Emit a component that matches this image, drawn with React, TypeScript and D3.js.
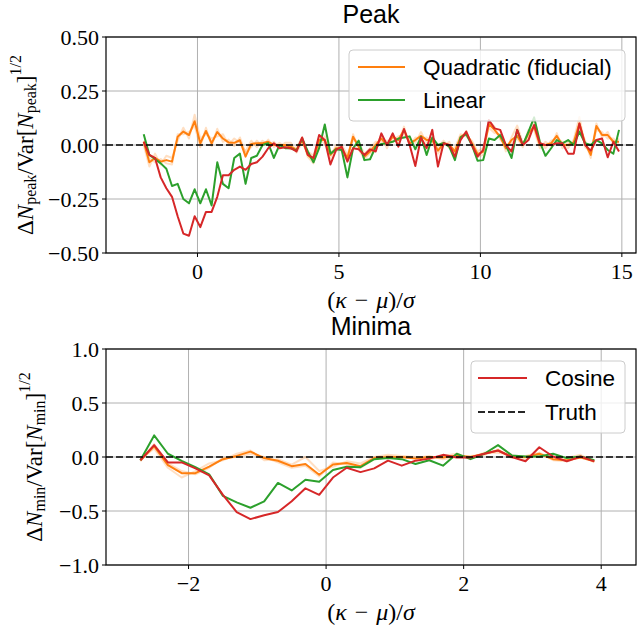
import React from "react";
import * as d3 from "d3";

// ---------- data ----------
const peakX0 = -1.9;
const peakStep = 0.2;
const peakQuadratic = [
  0.015,-0.08,-0.06,-0.077,-0.07,-0.077,0.038,0.062,0.046,0.11,
  0.008,0.065,0.008,0.06,0.03,0.012,0.01,0.022,-0.054,0.005,
  0.008,0.008,0.015,0,0,0,-0.008,-0.023,0.023,-0.046,
  -0.07,0.023,0.023,-0.046,-0.015,-0.015,-0.06,0.038,-0.008,-0.054,
  -0.03,0,0.03,0,0.038,0.023,0.07,0.008,0.023,0.042,
  0.023,0.023,-0.026,0.008,0,-0.03,0.038,0.054,0.008,-0.042,
  -0.03,0.097,0.07,0.038,-0.015,0.023,0.042,0,0.054,0.085,
  0,0,0.008,0.042,0,0,0.012,0.1,0.008,-0.046,
  0.088,0.046,0.046,0.015,0.015,
];
const peakQuadraticRealA = [
  0.0,-0.1,-0.04,-0.09,-0.05,-0.06,0.02,0.08,0.03,0.14,
  0.03,0.05,0.03,0.04,0.05,0.0,0.03,0.01,-0.03,0.02,
  -0.01,0.02,0.0,0.015,-0.01,0.01,0.01,-0.035,0.01,-0.03,
  -0.05,0.035,0.005,-0.03,-0.03,0.0,-0.045,0.025,0.01,-0.04,
  -0.015,0.015,0.015,0.02,0.02,0.04,0.05,0.02,0.01,0.06,
  0.01,0.035,-0.01,0.02,-0.015,-0.015,0.05,0.04,0.02,-0.03,
  -0.015,0.08,0.055,0.05,-0.03,0.035,0.09,0.01,0.04,0.12,
  0.015,-0.015,0.02,0.03,0.015,-0.015,0.025,0.13,-0.01,-0.03,
  0.07,0.06,0.03,0.03,0.0,
];
const peakQuadraticRealB = [
  0.02,-0.06,-0.08,-0.065,-0.085,-0.09,0.05,0.05,0.06,0.09,
  -0.01,0.08,-0.005,0.075,0.015,0.025,-0.005,0.035,-0.04,-0.01,
  0.02,-0.005,0.025,-0.01,0.01,-0.01,-0.02,-0.01,0.035,-0.055,
  -0.085,0.01,0.04,-0.06,0.0,-0.03,-0.07,0.05,-0.02,-0.065,
  -0.04,-0.01,0.045,-0.015,0.05,0.01,0.085,-0.005,0.035,0.03,
  0.035,0.01,-0.04,0.0,0.015,-0.045,0.025,0.065,-0.005,-0.055,
  -0.045,0.11,0.085,0.025,0.0,0.01,0.03,-0.01,0.07,0.07,
  -0.015,0.015,-0.005,0.055,-0.015,0.015,0.0,0.085,0.02,-0.06,
  0.1,0.035,0.06,0.005,0.03,
];
const peakLinear = [
  0.05,-0.046,-0.065,-0.085,-0.11,-0.19,-0.18,-0.25,-0.27,-0.205,
  -0.27,-0.205,-0.28,-0.08,-0.18,-0.2,-0.06,-0.04,-0.18,-0.06,
  -0.05,0,0.008,-0.06,0,-0.015,-0.015,-0.026,0.03,-0.03,
  -0.08,-0.015,0.095,-0.04,-0.02,-0.023,-0.15,-0.015,0.02,-0.07,
  -0.066,-0.008,0.005,0.008,0.015,0.03,0.035,0.04,-0.02,0.038,
  -0.046,0.035,0,0.01,-0.008,-0.07,0.035,0.05,0,-0.073,
  -0.07,0.03,0.023,0.046,0,-0.06,0.07,0,0.062,0.128,
  0.015,-0.05,-0.015,0.023,0.008,0.023,0,0.062,0.008,0,
  0.023,0.008,-0.023,-0.04,0.07,
];
const peakCosine = [
  0.015,-0.046,-0.06,-0.15,-0.2,-0.24,-0.33,-0.41,-0.42,-0.33,
  -0.38,-0.31,-0.31,-0.24,-0.14,-0.14,-0.115,-0.1,-0.115,-0.088,
  -0.08,-0.054,-0.015,0.008,-0.015,-0.01,-0.015,-0.03,0.035,-0.046,
  -0.06,0.046,0.023,-0.09,-0.023,-0.008,-0.077,-0.015,-0.02,-0.046,
  -0.02,-0.03,0.054,0,0.054,-0.008,0.074,0,-0.097,0.035,
  -0.015,0.07,-0.1,0.008,0,-0.054,0.023,0.062,0,-0.054,
  -0.023,0.116,0.077,0.07,0,-0.03,0.07,0,0.023,0.093,
  0.008,0,0,0.008,0.008,-0.04,-0.04,0.1,0,-0.026,
  0.023,0.03,-0.057,0.015,-0.03,
];

const minX0 = -2.7;
const minStep = 0.2;
const minQuadratic = [
  -0.03,0.1,-0.075,-0.15,-0.15,-0.09,-0.02,0.01,0.05,-0.01,
  -0.035,-0.085,-0.065,-0.165,-0.07,-0.055,-0.085,-0.01,0,0,
  -0.015,0,-0.005,0.015,0,0.03,0.06,0,0,0.03,
  -0.02,-0.03,-0.005,-0.04,
];
const minQuadraticRealA = [
  -0.02,0.08,-0.1,-0.19,-0.13,-0.06,-0.03,0.03,0.06,-0.03,
  -0.02,-0.07,0.0,-0.13,-0.09,-0.04,-0.06,0.0,0.02,0.01,
  0.0,-0.02,0.01,0.03,-0.01,0.04,0.04,0.02,-0.02,0.02,
  0.0,-0.01,0.02,-0.05,
];
const minQuadraticRealB = [
  -0.04,0.12,-0.06,-0.13,-0.16,-0.1,-0.01,0.0,0.03,0.0,
  -0.05,-0.1,-0.08,-0.18,-0.05,-0.07,-0.1,-0.02,0.01,-0.01,
  -0.01,0.01,-0.02,0.0,0.01,0.02,0.07,-0.01,0.01,0.04,
  -0.03,-0.04,0.0,-0.03,
];
const minLinear = [
  -0.03,0.2,0.03,-0.035,-0.095,-0.16,-0.36,-0.42,-0.47,-0.41,
  -0.24,-0.31,-0.21,-0.23,-0.12,-0.09,-0.095,-0.02,-0.01,-0.02,
  -0.065,-0.03,-0.08,0.03,-0.02,0.03,0.11,0.015,0.005,0.005,
  0.03,-0.01,0.005,-0.03,
];
const minCosine = [
  -0.03,0.11,-0.05,-0.05,-0.105,-0.17,-0.35,-0.51,-0.575,-0.54,
  -0.51,-0.41,-0.29,-0.35,-0.19,-0.1,-0.14,-0.105,-0.034,-0.08,
  -0.034,-0.015,0.02,-0.005,-0.005,0.03,0.06,0,-0.04,0.09,
  0.005,-0.04,0.005,-0.04,
];

const peakXTicks = [0, 5, 10, 15];
const peakYTicks = [-0.5, -0.25, 0, 0.25, 0.5];
const minXTicks = [-2, 0, 2, 4];
const minYTicks = [-1, -0.5, 0, 0.5, 1];

const C_ORANGE = "#ff7f0e";
const C_GREEN = "#2ca02c";
const C_RED = "#d62728";
const SERIF = "'Liberation Serif', 'DejaVu Serif', serif";
const SANS = "'Liberation Sans', Arial, sans-serif";

const minus = (s: string) => s.replace("-", "\u2212");

type PanelProps = {
  x0: number; step: number;
  quad: number[]; quadA: number[]; quadB: number[];
  lin: number[]; cos: number[];
  xDomain: [number, number]; yDomain: [number, number];
  top: number; bottom: number;
  xTicks: number[]; yTicks: number[]; yFmt: string;
  title: string; sub: string; ylabelX: number;
  legend: "top" | "bottom";
};

const LEFT = 106, RIGHT = 636;

function Panel(p: PanelProps) {
  const x = d3.scaleLinear().domain(p.xDomain).range([LEFT, RIGHT]);
  const y = d3.scaleLinear().domain(p.yDomain).range([p.bottom, p.top]);
  const line = d3.line<number>().x((_, i) => x(p.x0 + p.step * i)).y((v) => y(v));
  const fmt = d3.format(p.yFmt);
  const midY = (p.top + p.bottom) / 2;
  const clipId = "clip-" + p.title;
  return (
    <g>
      <defs>
        <clipPath id={clipId}>
          <rect x={LEFT} y={p.top} width={RIGHT - LEFT} height={p.bottom - p.top} />
        </clipPath>
      </defs>
      {p.xTicks.map((t) => (
        <line key={"gx" + t} x1={x(t)} x2={x(t)} y1={p.top} y2={p.bottom} stroke="#b0b0b0" strokeWidth={1} />
      ))}
      {p.yTicks.map((t) => (
        <line key={"gy" + t} x1={LEFT} x2={RIGHT} y1={y(t)} y2={y(t)} stroke="#b0b0b0" strokeWidth={1} />
      ))}
      <g clipPath={`url(#${clipId})`} fill="none" strokeLinejoin="round">
        <path d={line(p.quadA) || ""} stroke={C_ORANGE} strokeOpacity={0.25} strokeWidth={2} />
        <path d={line(p.quadB) || ""} stroke={C_ORANGE} strokeOpacity={0.25} strokeWidth={2} />
        <path d={line(p.quad) || ""} stroke={C_ORANGE} strokeWidth={2} />
        <path d={line(p.lin) || ""} stroke={C_GREEN} strokeWidth={2} />
        <path d={line(p.cos) || ""} stroke={C_RED} strokeWidth={2} />
        <line x1={LEFT} x2={RIGHT} y1={y(0)} y2={y(0)} stroke="#000" strokeOpacity={0.75} strokeWidth={2} strokeDasharray="7,3" />
      </g>
      <rect x={LEFT} y={p.top} width={RIGHT - LEFT} height={p.bottom - p.top} fill="none" stroke="#000" strokeWidth={1.2} />
      {p.xTicks.map((t) => (
        <g key={"tx" + t}>
          <line x1={x(t)} x2={x(t)} y1={p.bottom} y2={p.bottom + 4} stroke="#000" strokeWidth={1} />
          <text x={x(t)} y={p.bottom + 18} textAnchor="middle" dominantBaseline="central" fontFamily={SERIF} fontSize={22}>
            {minus(String(t))}
          </text>
        </g>
      ))}
      {p.yTicks.map((t) => (
        <g key={"ty" + t}>
          <line x1={LEFT - 4} x2={LEFT} y1={y(t)} y2={y(t)} stroke="#000" strokeWidth={1} />
          <text x={LEFT - 7} y={y(t)} textAnchor="end" dominantBaseline="central" fontFamily={SERIF} fontSize={22}>
            {minus(fmt(t))}
          </text>
        </g>
      ))}
      <text x={(LEFT + RIGHT) / 2} y={p.top - 14} textAnchor="middle" fontFamily={SANS} fontSize={25}>
        {p.title}
      </text>
      <text x={(LEFT + RIGHT) / 2} y={p.bottom + 47} textAnchor="middle" dominantBaseline="central" fontFamily={SERIF} fontSize={24}>
        (<tspan fontStyle="italic">κ</tspan>{"\u2004\u2212\u2004"}<tspan fontStyle="italic">μ</tspan>)/<tspan fontStyle="italic">σ</tspan>
      </text>
      <text transform={`translate(${p.ylabelX},${midY}) rotate(-90)`} textAnchor="middle" dominantBaseline="central" fontFamily={SERIF} fontSize={23}>
        Δ<tspan fontStyle="italic">N</tspan><tspan fontSize={16} dy={5}>{p.sub}</tspan><tspan dy={-5}>/Var[</tspan><tspan fontStyle="italic">N</tspan><tspan fontSize={16} dy={5}>{p.sub}</tspan><tspan dy={-5}>]</tspan><tspan fontSize={16} dy={-10}>1/2</tspan>
      </text>
      {p.legend === "top" ? (
        <g>
          <rect x={349} y={50} width={276} height={71} rx={4} fill="#fff" fillOpacity={0.8} stroke="#cccccc" strokeWidth={1} />
          <line x1={358} x2={405} y1={67} y2={67} stroke={C_ORANGE} strokeWidth={2} />
          <text x={423} y={67} dominantBaseline="central" fontFamily={SANS} fontSize={22.5}>Quadratic (fiducial)</text>
          <line x1={358} x2={405} y1={100} y2={100} stroke={C_GREEN} strokeWidth={2} />
          <text x={423} y={100} dominantBaseline="central" fontFamily={SANS} fontSize={22.5}>Linear</text>
        </g>
      ) : (
        <g>
          <rect x={471} y={361} width={154} height={72} rx={4} fill="#fff" fillOpacity={0.8} stroke="#cccccc" strokeWidth={1} />
          <line x1={478} x2={527} y1={378} y2={378} stroke={C_RED} strokeWidth={2} />
          <text x={545} y={378} dominantBaseline="central" fontFamily={SANS} fontSize={22.5}>Cosine</text>
          <line x1={478} x2={527} y1={412} y2={412} stroke="#000" strokeOpacity={0.85} strokeWidth={2} strokeDasharray="7,3" />
          <text x={545} y={412} dominantBaseline="central" fontFamily={SANS} fontSize={22.5}>Truth</text>
        </g>
      )}
    </g>
  );
}

export default function App() {
  return (
    <svg width={638} height={629} style={{ position: "absolute", left: 0, top: 0, background: "#fff" }}>
      <rect width={638} height={629} fill="#fff" />
      <Panel
        x0={peakX0} step={peakStep}
        quad={peakQuadratic} quadA={peakQuadraticRealA} quadB={peakQuadraticRealB}
        lin={peakLinear} cos={peakCosine}
        xDomain={[-3.233, 15.5]} yDomain={[-0.5, 0.5]}
        top={37} bottom={253}
        xTicks={peakXTicks} yTicks={peakYTicks} yFmt=".2f"
        title="Peak" sub="peak" ylabelX={25} legend="top"
      />
      <Panel
        x0={minX0} step={minStep}
        quad={minQuadratic} quadA={minQuadraticRealA} quadB={minQuadraticRealB}
        lin={minLinear} cos={minCosine}
        xDomain={[-3.2, 4.506]} yDomain={[-1, 1]}
        top={349} bottom={565}
        xTicks={minXTicks} yTicks={minYTicks} yFmt=".1f"
        title="Minima" sub="min" ylabelX={34} legend="bottom"
      />
    </svg>
  );
}
